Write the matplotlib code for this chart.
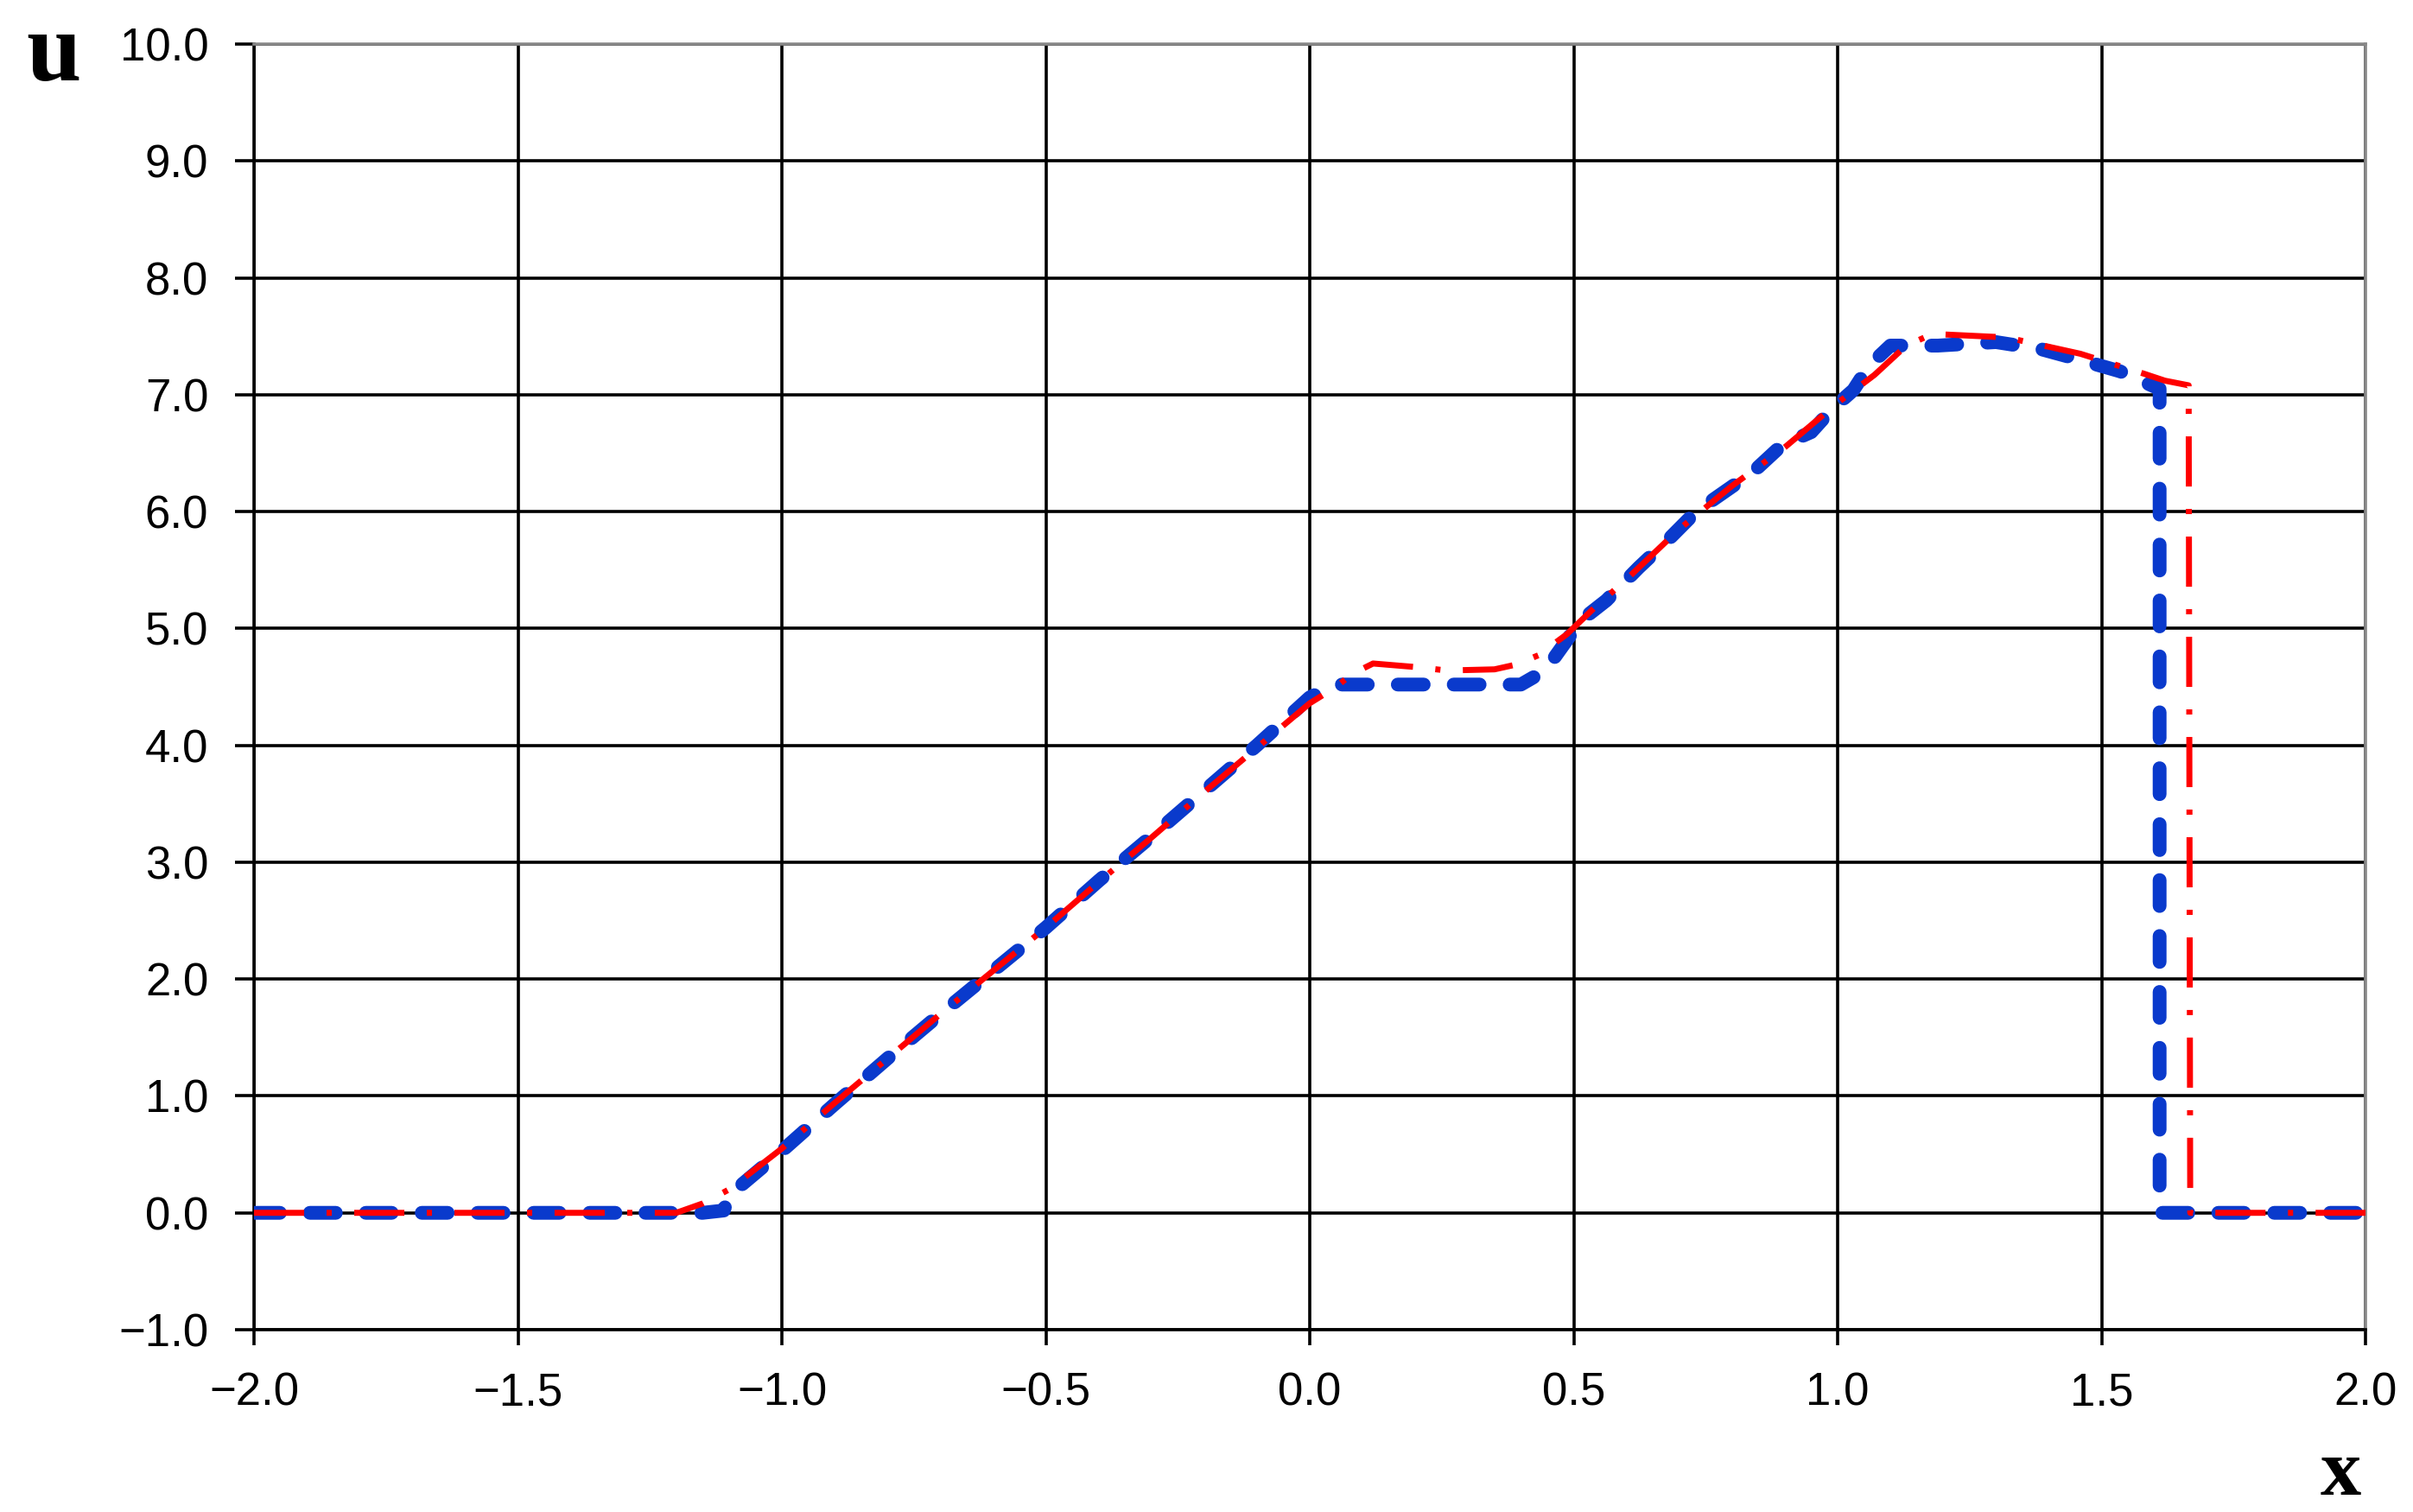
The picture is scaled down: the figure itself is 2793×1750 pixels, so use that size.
import matplotlib
matplotlib.use("Agg")
import matplotlib.pyplot as plt
from matplotlib.ticker import FuncFormatter

# ---- data ----
x_blue = [-2.0, -1.15, -1.11, -1.10, -1.0, -0.9, -0.8, -0.7, -0.6, -0.5, -0.4, -0.3, -0.2, -0.1, 0.0,
          0.05, 0.40, 0.446, 0.514, 0.562, 0.623, 0.677, 0.732, 0.786, 0.84, 0.895, 0.95, 0.99,
          1.03, 1.06, 1.10, 1.19, 1.30, 1.385, 1.45, 1.535, 1.61, 1.61, 2.0]
u_blue = [0.0, 0.0, 0.02, 0.15, 0.53, 0.93, 1.32, 1.70, 2.07, 2.44, 2.84, 3.22, 3.61, 4.00, 4.41,
          4.52, 4.52, 4.64, 5.07, 5.24, 5.52, 5.75, 6.00, 6.17, 6.34, 6.57, 6.68, 6.88,
          7.04, 7.25, 7.42, 7.42, 7.45, 7.39, 7.31, 7.20, 7.05, 0.0, 0.0]

x_red = [-2.0, -1.20, -1.15, -1.10, -1.0, -0.9, -0.8, -0.7, -0.6, -0.5, -0.4, -0.3, -0.2, -0.1, 0.0,
         0.05, 0.08, 0.12, 0.20, 0.26, 0.35, 0.39, 0.433, 0.487, 0.54, 0.60, 0.70, 0.80, 0.90,
         1.0, 1.07, 1.13, 1.18, 1.32, 1.46, 1.58, 1.62, 1.665, 1.668, 2.0]
u_red = [0.0, 0.0, 0.08, 0.20, 0.55, 0.94, 1.32, 1.70, 2.07, 2.44, 2.83, 3.21, 3.60, 3.98, 4.36,
         4.50, 4.61, 4.70, 4.67, 4.64, 4.65, 4.69, 4.77, 4.95, 5.18, 5.42, 5.85, 6.22, 6.55,
         6.93, 7.17, 7.42, 7.52, 7.49, 7.35, 7.18, 7.12, 7.08, 0.0, 0.0]

x_ticks = [-2.0, -1.5, -1.0, -0.5, 0.0, 0.5, 1.0, 1.5, 2.0]
y_ticks = [-1.0, 0.0, 1.0, 2.0, 3.0, 4.0, 5.0, 6.0, 7.0, 8.0, 9.0, 10.0]

plt.rcParams['font.family'] = ['Liberation Sans', 'DejaVu Sans']
plt.rcParams['lines.scale_dashes'] = False

fig = plt.figure(figsize=(27.93, 17.5), dpi=100)
ax = fig.add_axes([294/2793, 1 - 1539/1750, (2738-294)/2793, (1539-51)/1750])

ax.plot(x_blue, u_blue, color='#0a3acc', lw=11.5, dashes=(21.6, 25),
        dash_capstyle='round', solid_joinstyle='round', dash_joinstyle='round', zorder=3)
ax.plot(x_red, u_red, color='#ff0000', lw=5, dashes=(41.8, 18.7, 4.3, 18.7),
        dash_capstyle='butt', zorder=4)

ax.set_xlim(-2.0, 2.0)
ax.set_ylim(-1.0, 10.0)
ax.set_xticks(x_ticks)
ax.set_yticks(y_ticks)
fmt = FuncFormatter(lambda v, p: ('%.1f' % v).replace('-', '\u2212'))
ax.xaxis.set_major_formatter(fmt)
ax.yaxis.set_major_formatter(fmt)

ax.set_axisbelow(True)
ax.grid(True, color='black', lw=2.6)
for s in ['left', 'bottom']:
    ax.spines[s].set_color('black')
    ax.spines[s].set_linewidth(2.6)
for s in ['top', 'right']:
    ax.spines[s].set_color('#888888')
    ax.spines[s].set_linewidth(2.6)

ax.tick_params(axis='y', length=16, width=2.6, pad=22, labelsize=38, direction='out')
ax.tick_params(axis='x', length=13, width=2.6, pad=22, labelsize=38, direction='out')

fig.text(62/2793, 1 - 93/1750, 'u', family=['Liberation Serif', 'DejaVu Serif'],
         fontweight='bold', fontsize=82, ha='center', va='baseline')
fig.text(2709/2793, 1 - 1730/1750, 'x', family=['Liberation Serif', 'DejaVu Serif'],
         fontweight='bold', fontsize=68, ha='center', va='baseline')

fig.savefig('out.png', dpi=100, facecolor='white')
